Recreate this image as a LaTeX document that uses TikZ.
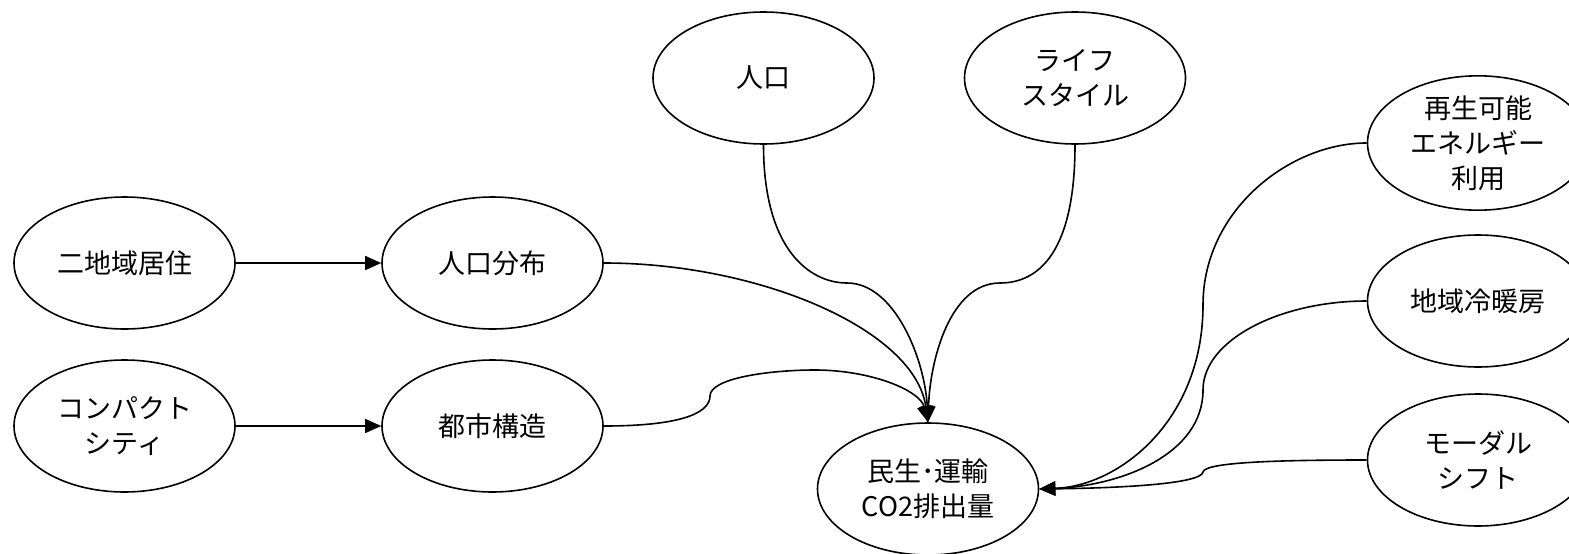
\documentclass[tikz,border=0pt]{standalone}
\usepackage{fontspec}
\setmainfont{Noto Sans CJK JP}
\usetikzlibrary{shapes.geometric,arrows.meta}
\begin{document}
\begin{tikzpicture}[x=1pt,y=-1pt,
  el/.style={draw, ellipse, line width=1.6pt, minimum width=221pt, minimum height=132pt,
    inner sep=0pt, align=center, font=\fontsize{27}{35}\selectfont},
  con/.style={line width=1.6pt},
  arr/.style={con, -{Triangle[length=16pt,width=14pt]}}]
\useasboundingbox (0,0) rectangle (1569,554);
\node[el] (nichi) at (124.5,263) {二地域居住};
\node[el] (jinbun) at (492.5,263) {人口分布};
\node[el] (compact) at (124.5,426) {コンパクト\\シティ};
\node[el] (toshi) at (492.5,426) {都市構造};
\node[el] (jinko) at (763.5,78) {人口};
\node[el] (life) at (1075,78) {ライフ\\スタイル};
\node[el] (co2) at (928,489) {民生･運輸\\CO2排出量};
\node[el] (saisei) at (1478,143) {再生可能\\エネルギー\\利用};
\node[el] (chiiki) at (1478,301) {地域冷暖房};
\node[el] (modal) at (1478,460) {モーダル\\シフト};

\draw[arr] (nichi.east) -- (jinbun.west);
\draw[arr] (compact.east) -- (toshi.west);
\draw[arr] (jinko.south) .. controls (763.5,250) and (810,283) .. (847,283)
  .. controls (895,283) and (925,360) .. (co2.north);
\draw[arr] (life.south) .. controls (1075,250) and (1040,283) .. (1000,283)
  .. controls (950,283) and (930,360) .. (co2.north);
\draw[arr] (jinbun.east) .. controls (760,263) and (915,330) .. (co2.north);
\draw[arr] (toshi.east) .. controls (690,426) and (710,410) .. (710,396)
  .. controls (710,378) and (770,370) .. (815,370)
  .. controls (870,370) and (920,390) .. (co2.north);
\draw[arr] (saisei.west) .. controls (1290,143) and (1203,210) .. (1203,305)
  .. controls (1203,420) and (1120,486) .. (co2.east);
\draw[arr] (chiiki.west) .. controls (1280,301) and (1203,340) .. (1203,390)
  .. controls (1203,455) and (1120,486) .. (co2.east);
\draw[arr] (modal.west) .. controls (1280,460) and (1205,462) .. (1203,472)
  .. controls (1201,484) and (1120,488) .. (co2.east);
\end{tikzpicture}
\end{document}
